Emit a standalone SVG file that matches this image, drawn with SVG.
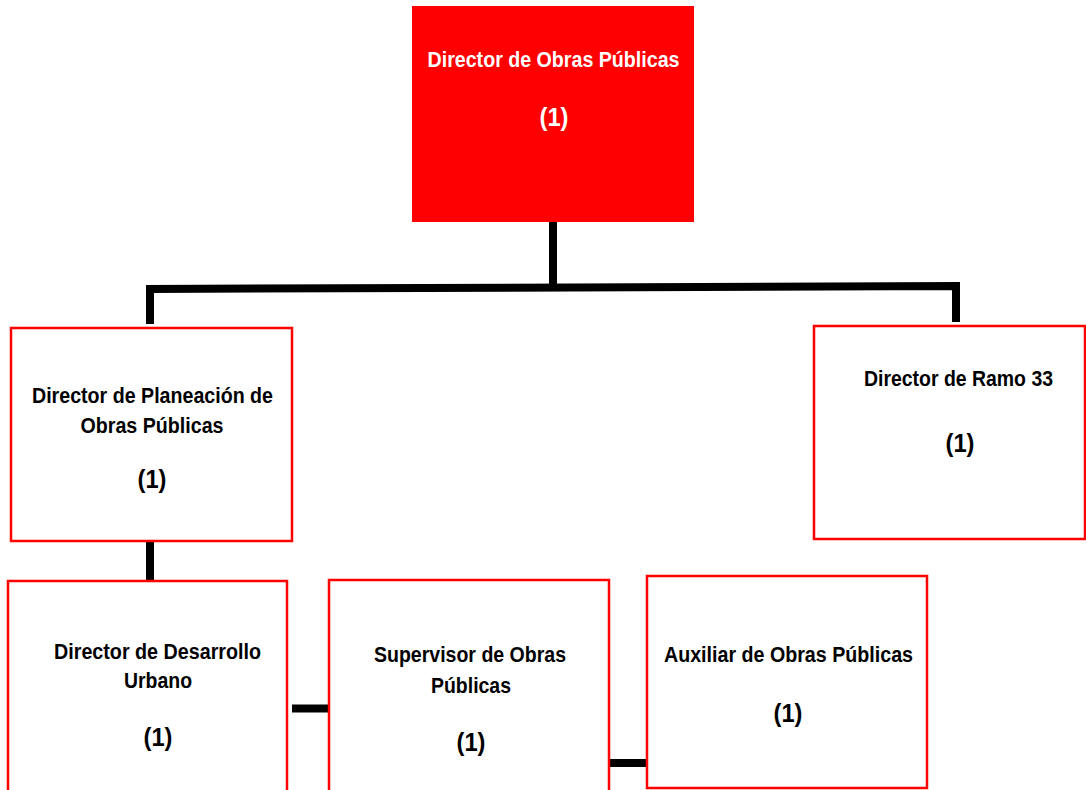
<svg xmlns="http://www.w3.org/2000/svg" width="1086" height="790" viewBox="0 0 1086 790">
  <style>
    .box { fill: #ffffff; stroke: #ff0000; stroke-width: 2.5; }
    .head { fill: #ff0000; stroke: none; }
    .lbl { font-family: "Liberation Sans", Arial, sans-serif; font-weight: bold; font-size: 22px; text-anchor: middle; fill: #000000; }
    .lbl.inv { fill: #ffffff; }
    .num { font-size: 26px; }
    .conn { fill: none; stroke: #000000; stroke-width: 8; stroke-linejoin: miter; stroke-linecap: butt; }
  </style>
  <rect width="1086" height="790" fill="#ffffff"/>

  <!-- connectors -->
  <g id="connectors">
    <path class="conn" d="M553,222 L553,286"/>
    <path class="conn" d="M150,324 L150,289 L956,286 L956,322"/>
    <path class="conn" d="M150,541 L150,581"/>
    <path class="conn" d="M292,708.5 L330,708.5"/>
    <path class="conn" d="M610,763 L647,763"/>
  </g>

  <!-- Director de Obras Públicas -->
  <g id="director-obras">
    <rect class="head" x="412" y="6" width="282" height="216"/>
    <text class="lbl inv" x="553.5" y="67" textLength="252" lengthAdjust="spacingAndGlyphs">Director de Obras Públicas</text>
    <text class="lbl inv num" x="554" y="126" textLength="29" lengthAdjust="spacingAndGlyphs">(1)</text>
  </g>

  <!-- Director de Planeación de Obras Públicas -->
  <g id="director-planeacion">
    <rect class="box" x="11" y="328" width="281" height="213"/>
    <text class="lbl" x="152.5" y="403" textLength="241" lengthAdjust="spacingAndGlyphs">Director de Planeación de</text>
    <text class="lbl" x="152" y="433" textLength="143" lengthAdjust="spacingAndGlyphs">Obras Públicas</text>
    <text class="lbl num" x="152" y="488" textLength="29" lengthAdjust="spacingAndGlyphs">(1)</text>
  </g>

  <!-- Director de Ramo 33 -->
  <g id="director-ramo33">
    <rect class="box" x="814" y="326" width="271" height="213"/>
    <text class="lbl" x="958.5" y="386" textLength="189" lengthAdjust="spacingAndGlyphs">Director de Ramo 33</text>
    <text class="lbl num" x="960" y="452" textLength="29" lengthAdjust="spacingAndGlyphs">(1)</text>
  </g>

  <!-- Director de Desarrollo Urbano -->
  <g id="director-desarrollo">
    <rect class="box" x="8" y="581" width="279" height="220"/>
    <text class="lbl" x="157.5" y="659" textLength="207" lengthAdjust="spacingAndGlyphs">Director de Desarrollo</text>
    <text class="lbl" x="158" y="688" textLength="68" lengthAdjust="spacingAndGlyphs">Urbano</text>
    <text class="lbl num" x="158" y="746" textLength="29" lengthAdjust="spacingAndGlyphs">(1)</text>
  </g>

  <!-- Supervisor de Obras Públicas -->
  <g id="supervisor-obras">
    <rect class="box" x="329" y="580" width="280" height="220"/>
    <text class="lbl" x="470" y="662" textLength="192" lengthAdjust="spacingAndGlyphs">Supervisor de Obras</text>
    <text class="lbl" x="471" y="693" textLength="80" lengthAdjust="spacingAndGlyphs">Públicas</text>
    <text class="lbl num" x="471" y="751" textLength="29" lengthAdjust="spacingAndGlyphs">(1)</text>
  </g>

  <!-- Auxiliar de Obras Públicas -->
  <g id="auxiliar-obras">
    <rect class="box" x="647" y="576" width="280" height="212"/>
    <text class="lbl" x="788.5" y="662" textLength="249" lengthAdjust="spacingAndGlyphs">Auxiliar de Obras Públicas</text>
    <text class="lbl num" x="788" y="722" textLength="29" lengthAdjust="spacingAndGlyphs">(1)</text>
  </g>
</svg>
